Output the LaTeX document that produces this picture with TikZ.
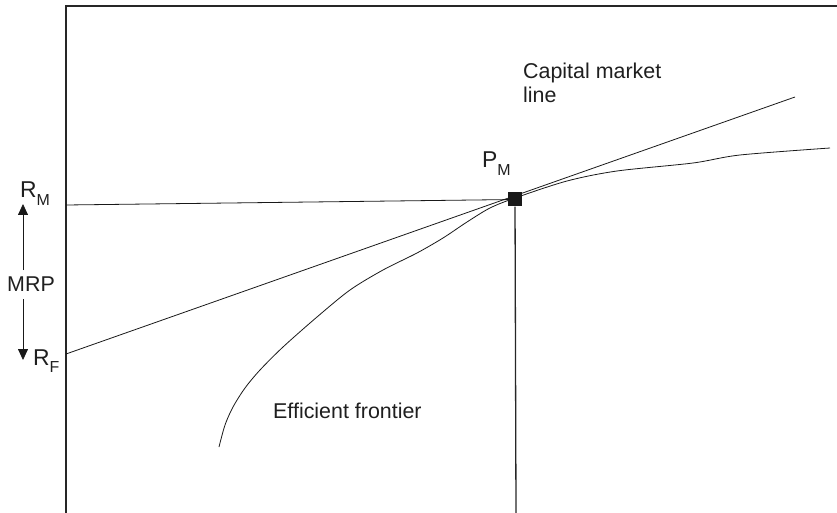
\documentclass[tikz,border=0pt]{standalone}
\usepackage{fontspec}
\setmainfont{Liberation Sans}
\usetikzlibrary{arrows.meta,positioning}
\newcommand{\lblsub}[1]{\raisebox{-7.5bp}{\fontsize{16}{16}\selectfont #1}}
\tikzset{
  axisln/.style={line width=1.3bp,black!85},
  thinln/.style={line width=0.8bp,black!90},
  arr/.style={-{Triangle[width=10bp,length=11bp]},line width=0.8bp,black!90},
  lbl/.style={font=\fontsize{21.5}{24}\selectfont,inner sep=0pt,text=black!88,align=left},
  symlbl/.style={lbl,font=\fontsize{23}{24}\selectfont},
  ptblk/.style={rectangle,fill=black!90,minimum size=14bp,inner sep=0pt}
}

\begin{document}
\begin{tikzpicture}[x=1bp,y=-1bp]
  \useasboundingbox (0,0) rectangle (837,513);

  \coordinate (orig) at (66,513);
  \coordinate (ytop) at (66,6);
  \coordinate (xend) at (837,6);
  \draw[axisln] (orig) -- (ytop) -- (xend);

  \node[ptblk] (pm) at (515,199.5) {};
  \coordinate (rm) at (66,205);
  \coordinate (rf) at (66,354);
  \coordinate (cmlend) at (795,97);
  \coordinate (pmfoot) at (516,513);

  \draw[thinln] (rm) -- (pm);
  \draw[thinln] (rf) -- (cmlend);
  \draw[axisln] (pm) -- (pmfoot);

  % efficient frontier
  \draw[thinln] plot[smooth,tension=0.5] coordinates {
    (219,447) (225,425) (233,407) (245,388) (260,370) (283,347) (317,317)
    (350,290) (383,270) (417,253) (443,238) (467,222) (490,208) (515,198)
    (567,181) (617,171) (693,163) (740,155) (830,148)};

  \node[lbl,anchor=north west] (cml) at (523,62.5) {Capital market\\line};
  \node[lbl,anchor=base west] (eff) at (273,418) {Efficient frontier};
  \node[symlbl,anchor=base west] (pmlbl) at (482,168) {P\lblsub{M}};
  \node[symlbl,anchor=base west] (rmlbl) at (20,198) {R\lblsub{M}};
  \node[symlbl,anchor=base west] (rflbl) at (33,365) {R\lblsub{F}};
  \node[lbl,anchor=base west,inner ysep=7bp] (mrp) at (7,292) {MRP};

  \coordinate (mrptop) at (23,204);
  \coordinate (mrpbot) at (23,360);
  \draw[arr] (mrp.north -| mrptop) -- (mrptop);
  \draw[arr] (mrp.south -| mrpbot) -- (mrpbot);
\end{tikzpicture}
\end{document}
